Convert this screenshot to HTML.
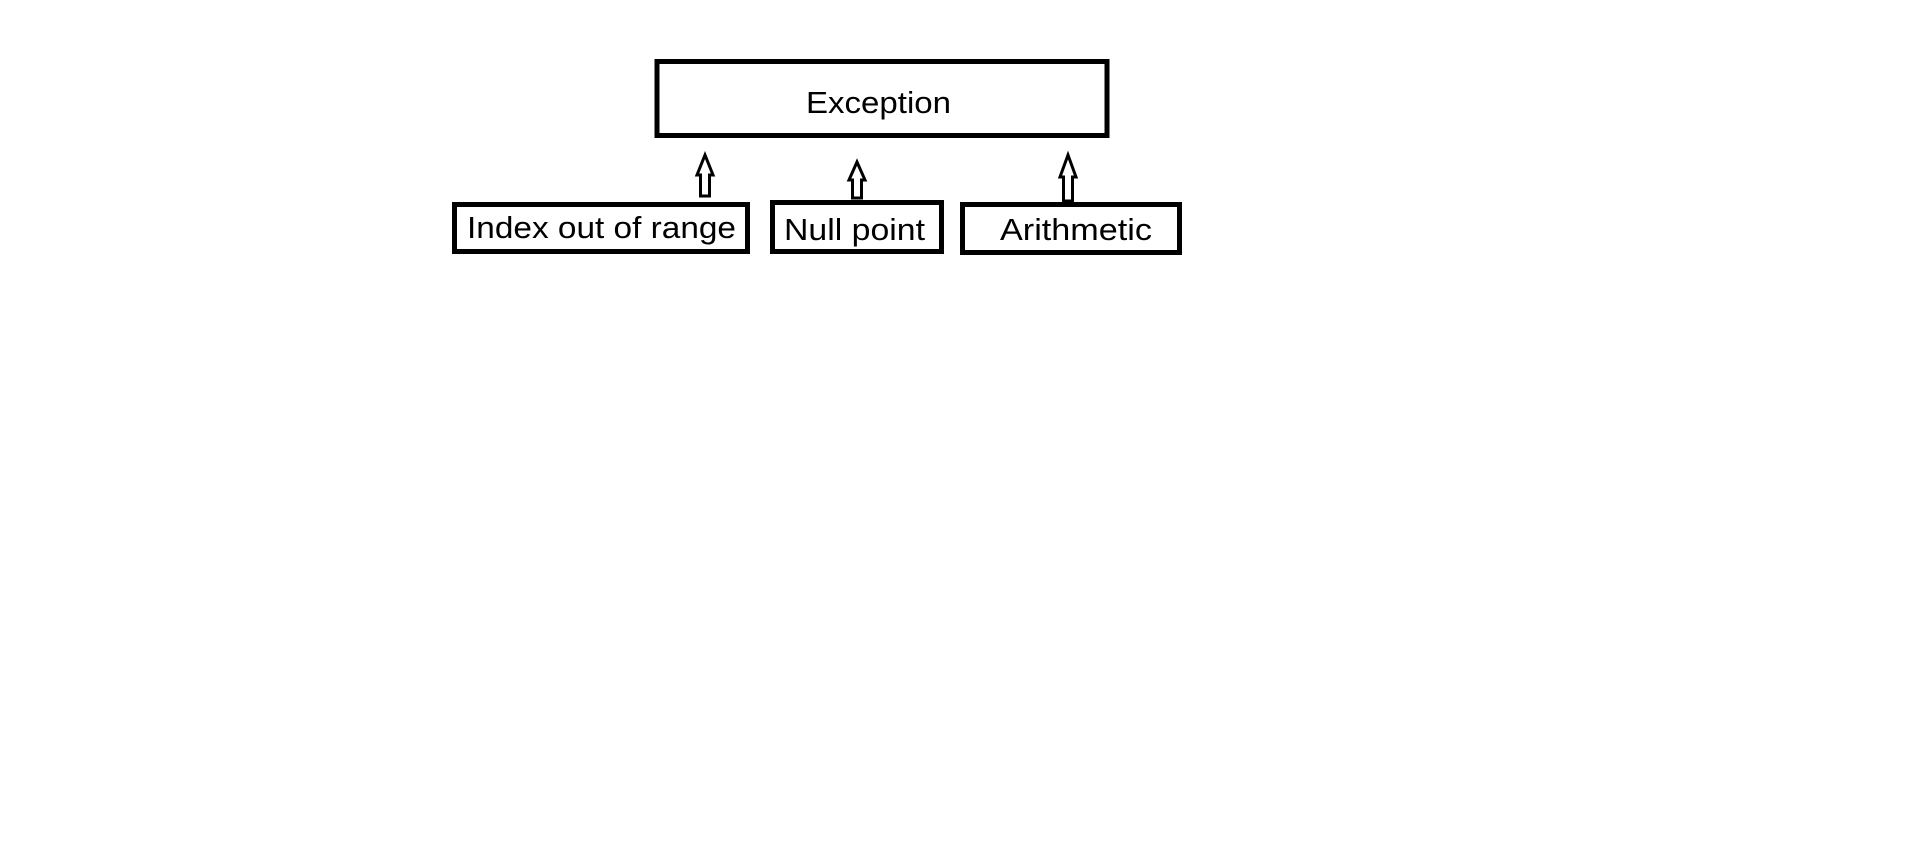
<!DOCTYPE html>
<html><head><meta charset="utf-8"><style>
html,body{margin:0;padding:0;background:#fff;}
svg{display:block;}
text{font-family:"Liberation Sans",sans-serif;font-size:31px;fill:#000;}
</style></head><body>
<svg width="1914" height="856" viewBox="0 0 1914 856">
<rect x="0" y="0" width="1914" height="856" fill="#fff"/>
<g fill="none" stroke="#000" stroke-width="5">
<rect x="657" y="61.5" width="450" height="74"/>
<rect x="454.5" y="204.5" width="293" height="47"/>
<rect x="772.5" y="202.5" width="169" height="49"/>
<rect x="962.5" y="204.5" width="217" height="48"/>
</g>
<g fill="#fff" stroke="#000" stroke-width="3" stroke-linejoin="miter">
<path d="M705 155 L713 175 L709.5 175 L709.5 196 L700.5 196 L700.5 175 L697 175 Z"/>
<path d="M857 162 L865 180 L861.5 180 L861.5 198 L852.5 198 L852.5 180 L849 180 Z"/>
<path d="M1068 155 L1076 177 L1072.5 177 L1072.5 201 L1063.5 201 L1063.5 177 L1060 177 Z"/>
</g>
<text x="806" y="113" textLength="145" lengthAdjust="spacingAndGlyphs">Exception</text>
<text x="467" y="238" textLength="269" lengthAdjust="spacingAndGlyphs">Index out of range</text>
<text x="784" y="240" textLength="141" lengthAdjust="spacingAndGlyphs">Null point</text>
<text x="1000" y="240" textLength="152" lengthAdjust="spacingAndGlyphs">Arithmetic</text>
</svg>
</body></html>
